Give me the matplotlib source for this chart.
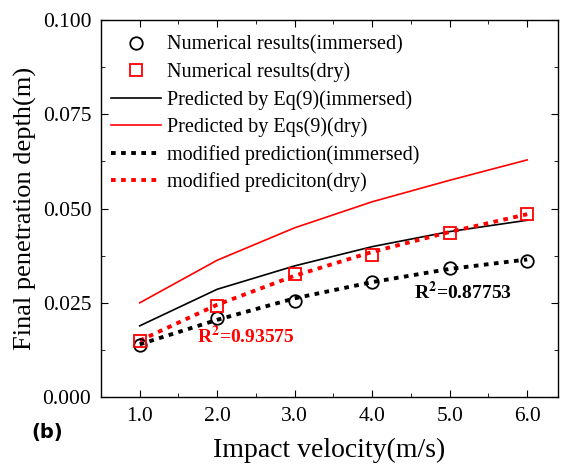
import numpy as np
import matplotlib.pyplot as plt
from matplotlib.ticker import MultipleLocator, FormatStrFormatter

velocity = [1.0, 2.0, 3.0, 4.0, 5.0, 6.0]
num_immersed = [0.0138, 0.0211, 0.0255, 0.0306, 0.0343, 0.0362]
num_dry = [0.0149, 0.0241, 0.0326, 0.0377, 0.0434, 0.0485]
pred_immersed = [0.0189, 0.0286, 0.0348, 0.0399, 0.0439, 0.0469]
pred_dry = [0.0250, 0.0363, 0.0449, 0.0518, 0.0575, 0.0629]
mod_immersed = [0.0140, 0.0205, 0.0262, 0.0305, 0.0340, 0.0365]
mod_dry = [0.0150, 0.0245, 0.0322, 0.0385, 0.0438, 0.0485]

plt.rcParams['font.family'] = ['Liberation Serif', 'DejaVu Serif']
plt.rcParams['mathtext.fontset'] = 'stix'

fig = plt.figure(figsize=(5.61, 4.65), dpi=100)
ax = fig.add_axes([0.18, 0.146, 0.815, 0.811])

ax.plot(velocity, num_immersed, 'o', mfc='none', mec='black', ms=9, mew=1.3,
        label='Numerical results(immersed)', zorder=4)
ax.plot(velocity, num_dry, 's', mfc='none', mec='red', ms=9, mew=1.3,
        label='Numerical results(dry)', zorder=4)
ax.plot(velocity, pred_immersed, '-', color='black', lw=1.2,
        label='Predicted by Eq(9)(immersed)')
ax.plot(velocity, pred_dry, '-', color='red', lw=1.2,
        label='Predicted by Eqs(9)(dry)')
ax.plot(velocity, mod_immersed, color='black', lw=2.8, ls=(0, (1.2, 1.4)),
        label='modified prediction(immersed)')
ax.plot(velocity, mod_dry, color='red', lw=2.8, ls=(0, (1.2, 1.4)),
        label='modified prediciton(dry)')

ax.text(5.17, 0.0279, r'R$^{\mathbf{2}}$=0.87753', fontsize=14, fontweight='bold',
        color='black', ha='center', va='center')
ax.text(2.36, 0.0163, r'R$^{\mathbf{2}}$=0.93575', fontsize=14, fontweight='bold',
        color='red', ha='center', va='center')

ax.set_xlim(0.5, 6.4)
ax.set_ylim(0.0, 0.1)
ax.xaxis.set_major_locator(MultipleLocator(1.0))
ax.xaxis.set_minor_locator(MultipleLocator(0.5))
ax.yaxis.set_major_locator(MultipleLocator(0.025))
ax.yaxis.set_minor_locator(MultipleLocator(0.0125))
ax.xaxis.set_major_formatter(FormatStrFormatter('%.1f'))
ax.yaxis.set_major_formatter(FormatStrFormatter('%.3f'))
ax.tick_params(which='both', direction='in', top=True, right=True,
               labelsize=15.5, pad=7)
ax.tick_params(which='major', length=5)
ax.tick_params(which='minor', length=3)
for s in ax.spines.values():
    s.set_linewidth(1.0)

ax.set_xlabel('Impact velocity(m/s)', fontsize=20, labelpad=9)
ax.set_ylabel('Final penetration depth(m)', fontsize=19, labelpad=4)

ax.legend(loc='upper left', bbox_to_anchor=(0.0, 0.985), frameon=False,
          fontsize=14.5, handlelength=2.5, labelspacing=0.38,
          borderaxespad=0.1, handletextpad=0.3)

fig.text(0.084, 0.069, '(b)', fontsize=14, fontweight='bold',
         family='DejaVu Sans', ha='center', va='center')

fig.savefig('out.png', dpi=100)
